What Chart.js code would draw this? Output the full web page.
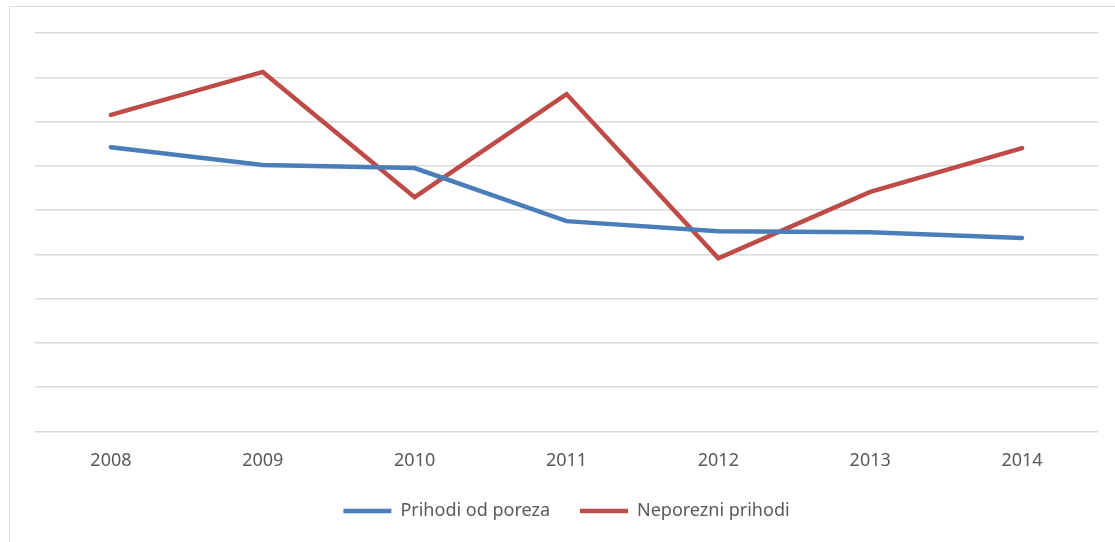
<!DOCTYPE html>
<html>
<head>
<meta charset="utf-8">
<script src="https://cdn.jsdelivr.net/npm/chart.js@4"></script>
<style>
  html, body { margin: 0; padding: 0; background: #fff; overflow: hidden; }
  #frame {
    position: absolute; left: 9px; top: 6px;
    width: 1118px; height: 538px;
    border: 1px solid #d9d9d9;
  }
  #frame canvas { display: block; }
</style>
</head>
<body>
<div id="frame"><canvas id="chart" width="1118" height="538"></canvas></div>
<script>
const years = ["2008", "2009", "2010", "2011", "2012", "2013", "2014"];
const taxRevenue = [6.42, 6.02, 5.95, 4.75, 4.52, 4.50, 4.37];
const nonTaxRevenue = [7.15, 8.12, 5.29, 7.62, 3.91, 5.41, 6.40];
const yMin = 0;
const yMax = 9;

const font = { family: "'Noto Sans', sans-serif", size: 18 };

new Chart(document.getElementById("chart"), {
  type: "line",
  data: {
    labels: years,
    datasets: [
      {
        label: "Prihodi od poreza",
        data: taxRevenue,
        borderColor: "#4a7ebb",
        backgroundColor: "#4a7ebb",
        borderWidth: 4.5,
        borderCapStyle: "round",
        pointRadius: 0,
        tension: 0,
      },
      {
        label: "Neporezni prihodi",
        data: nonTaxRevenue,
        borderColor: "#be4b48",
        backgroundColor: "#be4b48",
        borderWidth: 4.5,
        borderCapStyle: "round",
        pointRadius: 0,
        tension: 0,
      },
    ],
  },
  options: {
    responsive: false,
    animation: false,
    layout: {
      padding: { left: 25, right: 30, top: 26, bottom: 15 }
    },
    plugins: {
      tooltip: { enabled: false },
      legend: {
        position: "bottom",
        labels: {
          usePointStyle: true,
          pointStyle: "line",
          pointStyleWidth: 48,
          padding: 30,
          color: "#595959",
          font: font,
        }
      }
    },
    scales: {
      x: {
        offset: true,
        afterFit: (scale) => { scale.height -= 19; },
        grid: { display: false, drawTicks: false },
        border: { display: false },
        ticks: { color: "#595959", font: font, padding: 19 }
      },
      y: {
        min: yMin,
        max: yMax,
        afterFit: (scale) => { scale.width = 0; },
        grid: { color: "#d9d9d9", lineWidth: 1.5, drawTicks: false },
        border: { display: false },
        ticks: { display: false, stepSize: 1 }
      }
    }
  }
});
</script>
</body>
</html>
